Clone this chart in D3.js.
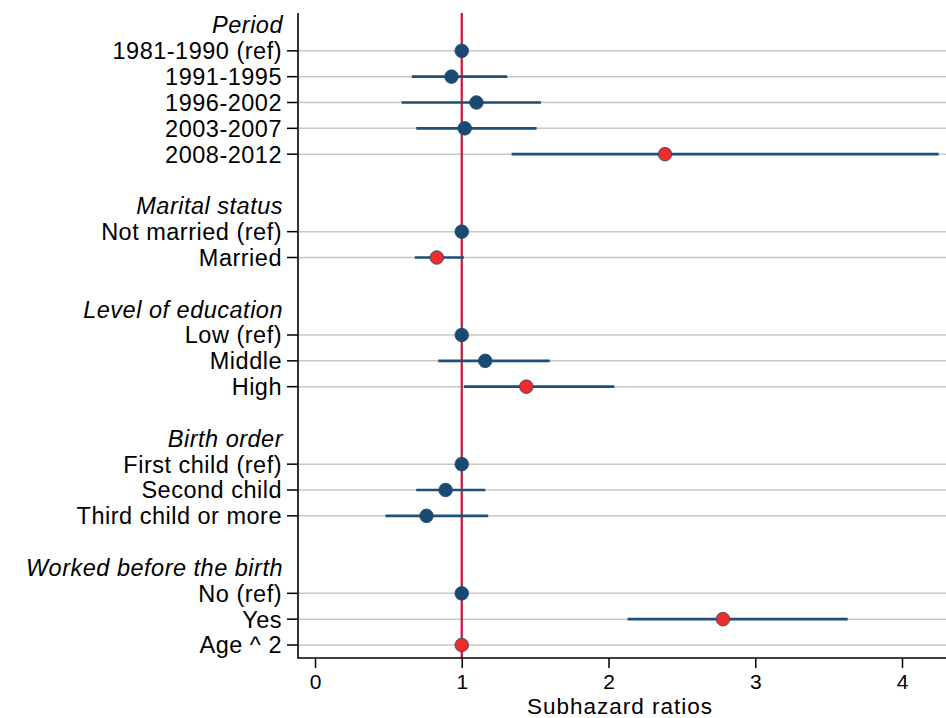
<!DOCTYPE html>
<html>
<head>
<meta charset="utf-8">
<script src="https://cdn.jsdelivr.net/npm/d3@7"></script>
<style>
  body { margin: 0; background: #fff; }
  svg { display: block; font-family: "Liberation Sans", Arial, sans-serif; }
</style>
</head>
<body>
<div id="chart"></div>
<script>
// rows, top to bottom ('' = empty spacer row)
const rowLabels = [
  'Period', '1981-1990 (ref)', '1991-1995', '1996-2002', '2003-2007', '2008-2012', '',
  'Marital status', 'Not married (ref)', 'Married', '',
  'Level of education', 'Low (ref)', 'Middle', 'High', '',
  'Birth order', 'First child (ref)', 'Second child', 'Third child or more', '',
  'Worked before the birth', 'No (ref)', 'Yes', 'Age ^ 2'
];
const rowIsHeader = [
  true, false, false, false, false, false, false,
  true, false, false, false,
  true, false, false, false, false,
  true, false, false, false, false,
  true, false, false, false
];
// subhazard ratio estimates and 95% CI (null = no marker)
const estimates = [
  null, 1, 0.93, 1.10, 1.02, 2.385, null,
  null, 1, 0.83, null,
  null, 1, 1.16, 1.44, null,
  null, 1, 0.89, 0.76, null,
  null, 1, 2.78, 1
];
const lower = [
  null, null, 0.66, 0.59, 0.69, 1.34, null,
  null, null, 0.68, null,
  null, null, 0.84, 1.015, null,
  null, null, 0.69, 0.48, null,
  null, null, 2.13, null
];
const upper = [
  null, null, 1.31, 1.54, 1.51, 4.25, null,
  null, null, 1.015, null,
  null, null, 1.60, 2.04, null,
  null, null, 1.16, 1.18, null,
  null, null, 3.63, null
];
const significant = [
  false, false, false, false, false, true, false,
  false, false, true, false,
  false, false, false, true, false,
  false, false, false, false, false,
  false, false, true, true
];
const xTicks = [0, 1, 2, 3, 4];
const refValue = 1;

const width = 946;
const height = 718;
const plot = { left: 298, right: 946, top: 13, bottom: 658 };

const rows = rowLabels.map((label, i) => ({
  i, label,
  header: rowIsHeader[i],
  est: estimates[i], lo: lower[i], hi: upper[i], sig: significant[i]
}));

const svg = d3.select('#chart').append('svg')
  .attr('width', width).attr('height', height);

const xScale = d3.scaleLinear().domain([0, 4]).range([315, 902]);
const yScale = d3.scaleLinear().domain([0, rows.length - 1]).range([25, 645]);

const items = rows.filter((d) => d.label && !d.header);

// gridlines
svg.append('g').selectAll('line')
  .data(items)
  .join('line')
  .attr('x1', plot.left).attr('x2', plot.right)
  .attr('y1', (d) => yScale(d.i)).attr('y2', (d) => yScale(d.i))
  .attr('stroke', '#c8c8c8').attr('stroke-width', 1.5);

// y ticks
svg.append('g').selectAll('line')
  .data(items)
  .join('line')
  .attr('x1', plot.left - 11).attr('x2', plot.left)
  .attr('y1', (d) => yScale(d.i)).attr('y2', (d) => yScale(d.i))
  .attr('stroke', '#000').attr('stroke-width', 1.5);

// y labels
svg.append('g').selectAll('text')
  .data(rows.filter((d) => d.label))
  .join('text')
  .attr('x', (d) => d.header ? plot.left - 15 : plot.left - 16)
  .attr('y', (d) => yScale(d.i))
  .attr('dy', '0.36em')
  .attr('text-anchor', 'end')
  .attr('font-size', 23.5)
  .attr('letter-spacing', 0.5)
  .attr('font-style', (d) => d.header ? 'italic' : null)
  .attr('fill', '#000')
  .text((d) => d.label);

// reference line
svg.append('line')
  .attr('x1', xScale(refValue)).attr('x2', xScale(refValue))
  .attr('y1', plot.top).attr('y2', plot.bottom)
  .attr('stroke', '#c8143c').attr('stroke-width', 2.2);

// axes
svg.append('line')
  .attr('x1', plot.left).attr('x2', plot.left)
  .attr('y1', plot.top).attr('y2', plot.bottom)
  .attr('stroke', '#000').attr('stroke-width', 1.6);

const xAxis = svg.append('g')
  .attr('transform', `translate(0, ${plot.bottom})`)
  .call(d3.axisBottom(xScale).tickValues(xTicks).tickFormat(d3.format('d'))
    .tickSize(10).tickPadding(6).tickSizeOuter(0));
xAxis.select('.domain').remove();
xAxis.selectAll('.tick line').attr('stroke', '#000').attr('stroke-width', 1.5);
xAxis.selectAll('.tick text')
  .attr('font-size', 21).attr('font-family', '"Liberation Sans", Arial, sans-serif')
  .attr('fill', '#000');
svg.append('line')
  .attr('x1', plot.left - 0.8).attr('x2', plot.right)
  .attr('y1', plot.bottom).attr('y2', plot.bottom)
  .attr('stroke', '#000').attr('stroke-width', 1.6);

svg.append('text')
  .attr('x', 620).attr('y', 714)
  .attr('text-anchor', 'middle')
  .attr('font-size', 22.5).attr('letter-spacing', 1)
  .text('Subhazard ratios');

// confidence intervals
svg.append('g').selectAll('line')
  .data(items.filter((d) => d.lo !== null))
  .join('line')
  .attr('x1', (d) => xScale(d.lo)).attr('x2', (d) => xScale(d.hi))
  .attr('y1', (d) => yScale(d.i)).attr('y2', (d) => yScale(d.i))
  .attr('stroke', '#1f4e79').attr('stroke-width', 2.6);

// estimates
svg.append('g').selectAll('circle')
  .data(items.filter((d) => d.est !== null))
  .join('circle')
  .attr('cx', (d) => xScale(d.est))
  .attr('cy', (d) => yScale(d.i))
  .attr('r', 6.8)
  .attr('fill', (d) => d.sig ? '#ee2c2c' : '#1a4a72')
  .attr('stroke', '#1a4a72')
  .attr('stroke-width', 0.8);
</script>
</body>
</html>
